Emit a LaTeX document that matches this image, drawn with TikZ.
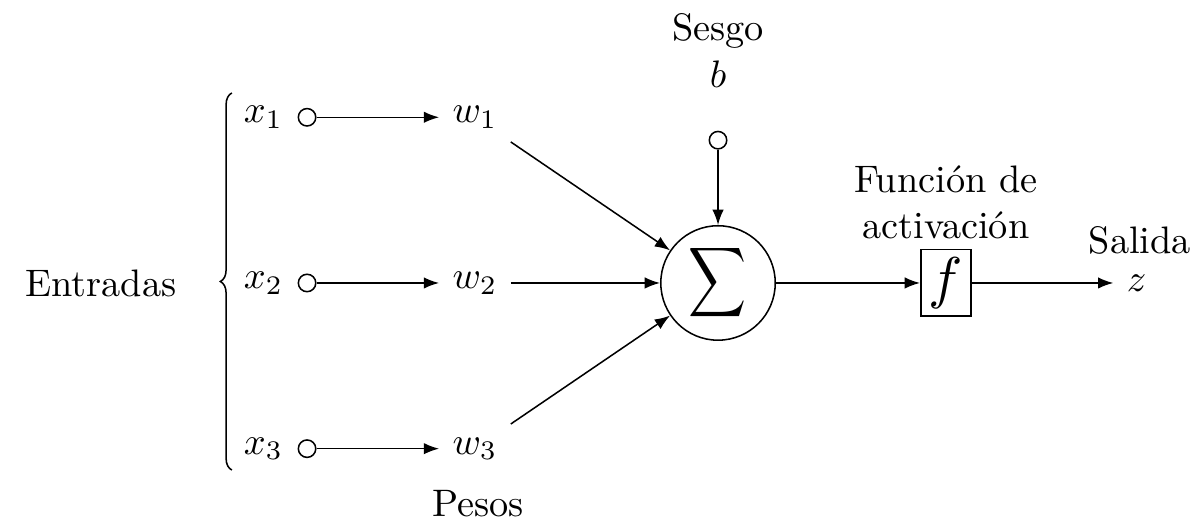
\documentclass[tikz,border=0pt]{standalone}
\usepackage{amsmath}
\usetikzlibrary{arrows.meta,decorations.pathreplacing,positioning}

\begin{document}
\begin{tikzpicture}[>={Latex[length=4pt,width=3pt]},
  entrada/.style = {circle, draw, fill = white, inner sep = 0pt, minimum size = 0.16cm}]
\useasboundingbox (-6.587,-2.174) rectangle (4.394,2.596);
% neurona
\node [circle, draw, minimum size = 1.05cm, inner sep = 0pt] (sum) at (0,0) {\scalebox{1.05}[1.27]{$\displaystyle\sum$}};
% entradas y pesos
\foreach \i/\y in {1/1.52, 2/0, 3/-1.52}{
  \node (x\i) at (-4.17,\y) {$x_\i$};
  \node [entrada] (c\i) at (-3.77,\y) {};
  \node (w\i) at (-2.23,\y) {$w_\i$};
  \draw [->] (c\i) -- (w\i);
}
\draw [->] (w1.south east) -- (sum);
\draw [->] (w2.east) -- (sum.west);
\draw [->] (w3.north east) -- (sum);
\draw [decorate, decoration = {brace, amplitude = 3pt}] (-4.46,-1.716) -- (-4.46,1.743);
\node (entradas) at (-5.66,0) {Entradas};
\node (pesos) at (-2.2,-2.02) {Pesos};
% sesgo
\node [entrada] (cb) at (0,1.31) {};
\node (b) at (0,1.917) {$b$};
\node (sesgo) at (0,2.31) {Sesgo};
\draw [->] (cb) -- (sum);
% activacion y salida
\node [draw, minimum width = 0.46cm, minimum height = 0.61cm, inner sep = 1pt] (f) at (2.09,0) {\scalebox{1.5}{$f$}};
\node [align = center] (act) at (2.09,0.74) {Función de\\activación};
\draw [->] (sum) -- (f);
\node (z) at (3.84,0) {$z$};
\node (salida) at (3.87,0.39) {Salida};
\draw [->] (f) -- (z);
\end{tikzpicture}
\end{document}
